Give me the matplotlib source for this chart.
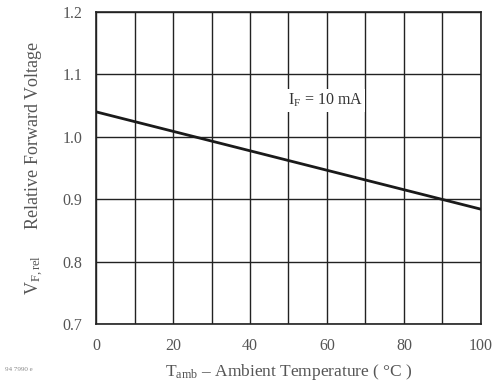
import matplotlib
matplotlib.use("Agg")
import matplotlib.pyplot as plt

# Relative forward voltage vs. ambient temperature
temperature = [0, 100]
v_rel = [1.04, 0.884]
x_ticks = [0, 20, 40, 60, 80, 100]
y_ticks = [0.7, 0.8, 0.9, 1.0, 1.1, 1.2]

plt.rcParams['font.family'] = ['Liberation Serif', 'DejaVu Serif']
plt.rcParams['mathtext.fontset'] = 'custom'
plt.rcParams['mathtext.rm'] = 'Liberation Serif'
plt.rcParams['mathtext.it'] = 'Liberation Serif:italic'
grey = '#555555'

fig = plt.figure(figsize=(5.03, 3.88), dpi=100)
ax = fig.add_axes([0.191, 0.165, 0.765, 0.804])

ax.set_xlim(0, 100)
ax.set_ylim(0.7, 1.2)
ax.set_yticks(y_ticks)
ax.set_xticks(x_ticks)
ax.set_xticks(range(0, 101, 10), minor=True)
ax.grid(True, color='#222222', linewidth=1.0)
ax.grid(True, which='minor', axis='x', color='#222222', linewidth=1.0)
ax.set_axisbelow(True)
ax.tick_params(which='both', length=0, labelsize=11.5, colors=grey, pad=10)
ax.set_xticklabels([str(t) for t in x_ticks])
ax.set_yticklabels([f"{t:.1f}" for t in y_ticks])
for s in ax.spines.values():
    s.set_color('#222222')
    s.set_linewidth(1.2)

ax.plot(temperature, v_rel, color='#1a1a1a', linewidth=2.0, zorder=3)

ax.text(59.5, 1.058, r'I$_\mathrm{F}$ = 10 mA', ha='center', va='center', fontsize=11.5,
        color='#333333', bbox=dict(facecolor='white', edgecolor='none', pad=2), zorder=4)

ax.set_xlabel(r'T$_\mathrm{amb}$ – Ambient Temperature ( °C )', fontsize=12.5, color=grey, labelpad=6)
ax.set_ylabel(r'V$_\mathrm{F,rel}$      Relative Forward Voltage', fontsize=13, color=grey, labelpad=12)

fig.text(0.01, 0.045, '94 7990 e', fontsize=5, color='#888888')

fig.savefig('out.png', dpi=100)
